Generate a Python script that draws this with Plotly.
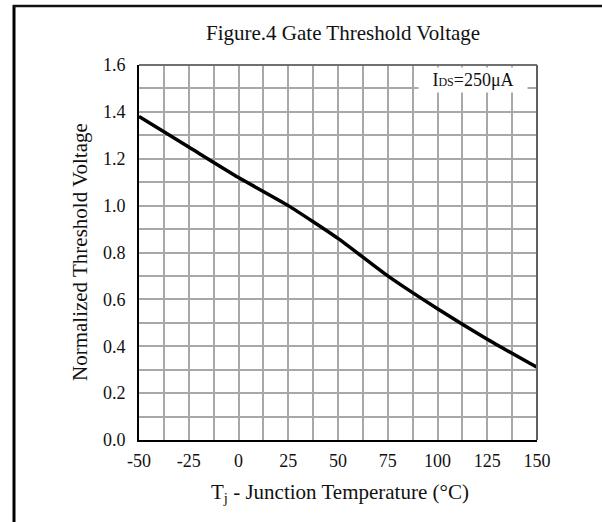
import plotly.graph_objects as go

# Junction temperature (°C) and normalized gate threshold voltage
temperature = [-50, -25, 0, 25, 50, 75, 100, 125, 150]
vth_norm = [1.38, 1.25, 1.12, 1.00, 0.86, 0.70, 0.56, 0.43, 0.31]

x_ticks = [-50, -25, 0, 25, 50, 75, 100, 125, 150]
y_ticks = [0.0, 0.2, 0.4, 0.6, 0.8, 1.0, 1.2, 1.4, 1.6]
y_tick_text = ["0.0", "0.2", "0.4", "0.6", "0.8", "1.0", "1.2", "1.4", "1.6"]

FONT = "Liberation Serif, Times New Roman, serif"
GRID = "#a8a8a8"
TXT = "#111111"

fig = go.Figure()
fig.add_trace(go.Scatter(
    x=temperature, y=vth_norm, mode="lines",
    line=dict(color="black", width=3.5, shape="spline", smoothing=0.5),
    showlegend=False, hoverinfo="skip",
))

fig.update_layout(
    width=602, height=522,
    margin=dict(l=139, r=65, t=65, b=82),
    paper_bgcolor="white", plot_bgcolor="white",
    font=dict(family=FONT, color=TXT, size=18),
    xaxis=dict(
        range=[-50, 150], tickvals=x_ticks, ticktext=[str(v) for v in x_ticks],
        showgrid=True, gridcolor=GRID, gridwidth=1.8,
        minor=dict(dtick=12.5, tick0=-50, showgrid=True, gridcolor=GRID, gridwidth=1.8),
        showline=True, linecolor="black", linewidth=2,
        ticks="outside", ticklen=3, tickcolor="rgba(0,0,0,0)",
        zeroline=False, tickfont=dict(size=18, family=FONT, color=TXT),
    ),
    yaxis=dict(
        range=[0, 1.6], tickvals=y_ticks, ticktext=y_tick_text,
        showgrid=True, gridcolor=GRID, gridwidth=1.8,
        minor=dict(dtick=0.1, tick0=0, showgrid=True, gridcolor=GRID, gridwidth=1.8),
        showline=True, linecolor="black", linewidth=2,
        ticks="outside", ticklen=8, tickcolor="rgba(0,0,0,0)",
        zeroline=False, tickfont=dict(size=18, family=FONT, color=TXT),
    ),
    shapes=[
        # top and right plot edges
        dict(type="line", xref="paper", yref="paper", x0=0, x1=1, y0=1, y1=1,
             line=dict(color="#707070", width=2)),
        dict(type="line", xref="paper", yref="paper", x0=1, x1=1, y0=0, y1=1,
             line=dict(color="#606060", width=2)),
        # outer frame (left and top)
        dict(type="line", xref="paper", yref="paper",
             x0=(14 - 139) / 398, x1=(14 - 139) / 398,
             y0=(440 - 530) / 375, y1=1 + (65 - 5) / 375,
             line=dict(color="black", width=3)),
        dict(type="line", xref="paper", yref="paper",
             x0=(13 - 139) / 398, x1=(610 - 139) / 398,
             y0=1 + (65 - 6) / 375, y1=1 + (65 - 6) / 375,
             line=dict(color="#111111", width=2.5)),
    ],
    annotations=[
        dict(text="Figure.4 Gate Threshold Voltage", xref="paper", yref="paper",
             x=(343 - 139) / 398, y=1 + (65 - 33) / 375, xanchor="center", yanchor="middle",
             showarrow=False, font=dict(size=21, family=FONT, color=TXT)),
        dict(text="T<sub>j</sub> - Junction Temperature (°C)", xref="paper", yref="paper",
             x=(340 - 139) / 398, y=(440 - 493) / 375, xanchor="center", yanchor="middle",
             showarrow=False, font=dict(size=21, family=FONT, color=TXT)),
        dict(text="Normalized Threshold Voltage", xref="paper", yref="paper",
             x=(80 - 139) / 398, y=(440 - 252) / 375, xanchor="center", yanchor="middle",
             textangle=-90, showarrow=False, font=dict(size=21, family=FONT, color=TXT)),
        dict(text="I<span style='font-size:12px'>DS</span>=250\u03bcA", xref="x", yref="y",
             x=117.8, y=1.534, xanchor="center", yanchor="middle",
             showarrow=False, bgcolor="white", width=108, height=24, borderpad=0,
             font=dict(size=18, family=FONT, color=TXT)),
    ],
)

fig.write_html("out.html")
